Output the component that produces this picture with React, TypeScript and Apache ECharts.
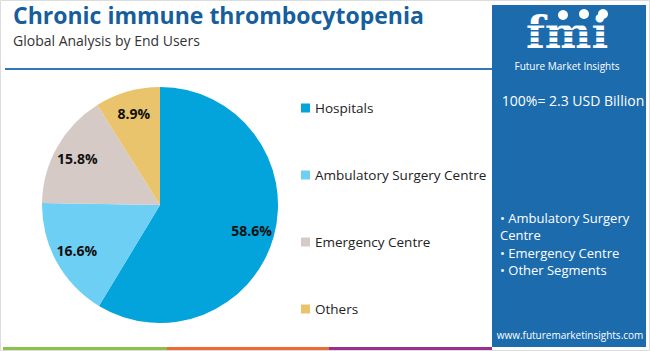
import React, { useEffect, useRef } from "react";
import * as echarts from "echarts";

const categories = ["Hospitals", "Ambulatory Surgery Centre", "Emergency Centre", "Others"];
const shares = [58.6, 16.6, 15.8, 8.9];
const colors = ["#03A4DC", "#6ECFF4", "#D6CAC6", "#E9C46C"];
const panelBullets = ["• Ambulatory Surgery", "Centre", "• Emergency Centre", "• Other Segments"];
const titleText = "Chronic immune thrombocytopenia";
const subtitleText = "Global Analysis by End Users";
const totalText = "100%= 2.3 USD Billion";

export default function App() {
  const ref = useRef<HTMLDivElement>(null);
  useEffect(() => {
    document.body.style.margin = "0";
    const chart = echarts.init(ref.current!, null, { renderer: "svg" });
    const data = categories.map((name, i) => ({ name, value: shares[i], itemStyle: { color: colors[i] } }));
    const font = "'Open Sans', sans-serif";
    chart.setOption({
      animation: false,
      backgroundColor: "#ffffff",
      legend: {
        orient: "vertical",
        left: 296,
        top: 95,
        itemWidth: 9,
        itemHeight: 9,
        itemGap: 51,
        icon: "rect",
        data: categories,
        textStyle: { fontFamily: font, fontSize: 13.5, color: "#222", lineHeight: 16 },
      },
      series: [
        {
          type: "pie",
          center: [160, 205],
          radius: [0, 118],
          startAngle: 90,
          clockwise: true,
          label: { show: false },
          labelLine: { show: false },
          emphasis: { disabled: true },
          data,
        },
        {
          type: "pie",
          center: [160, 205],
          radius: [66, 118],
          startAngle: 90,
          clockwise: true,
          silent: true,
          itemStyle: { color: "rgba(0,0,0,0)", borderWidth: 0 },
          label: {
            show: true,
            position: "inside",
            formatter: "{c}%",
            fontFamily: font,
            fontWeight: "bold",
            fontSize: 14,
            color: "#111",
          },
          labelLine: { show: false },
          emphasis: { disabled: true },
          data: categories.map((name, i) => ({ name, value: shares[i] })),
        },
      ],
      graphic: [
        { type: "rect", shape: { x: 0.5, y: 0.5, width: 649, height: 350 }, style: { fill: "none", stroke: "#dcdcdc", lineWidth: 1 } },
        { type: "text", x: 13, y: 3.5, style: { text: titleText, font: `bold 23px ${font}`, fill: "#165E9C" } },
        { type: "text", x: 13, y: 33, style: { text: subtitleText, font: `14px ${font}`, fill: "#333" } },
        { type: "line", shape: { x1: 5, y1: 69, x2: 492, y2: 69 }, style: { stroke: "#2E7AB8", lineWidth: 2 } },
        { type: "rect", shape: { x: 492, y: 5, width: 154, height: 342 }, style: { fill: "#1B6BAD" } },
        { type: "text", x: 567, y: 32, style: { text: "fmi", font: "bold 44px 'DejaVu Serif', serif", lineHeight: 34, fill: "#ffffff", align: "center", verticalAlign: "middle" } },
        { type: "rect", shape: { x: 512, y: 24, width: 110, height: 1.5 }, style: { fill: "#1B6BAD" } },
        { type: "rect", shape: { x: 512, y: 30, width: 110, height: 1.5 }, style: { fill: "#1B6BAD" } },
        { type: "rect", shape: { x: 512, y: 36, width: 110, height: 1.5 }, style: { fill: "#1B6BAD" } },
        { type: "rect", shape: { x: 512, y: 42, width: 110, height: 1.5 }, style: { fill: "#1B6BAD" } },
        { type: "rect", shape: { x: 512, y: 48, width: 110, height: 1.5 }, style: { fill: "#1B6BAD" } },
        { type: "circle", shape: { cx: 563, cy: 15, r: 5 }, style: { fill: "#ffffff" } },
        { type: "circle", shape: { cx: 584, cy: 14, r: 5 }, style: { fill: "#ffffff" } },
        { type: "circle", shape: { cx: 603, cy: 14, r: 5 }, style: { fill: "#ffffff" } },
        { type: "text", x: 567, y: 66, style: { text: "Future Market Insights", font: `10px ${font}`, fill: "#ffffff", align: "center", verticalAlign: "middle" } },
        { type: "text", x: 573, y: 100, style: { text: totalText, font: `14px ${font}`, fill: "#ffffff", align: "center", verticalAlign: "middle" } },
        {
          type: "text",
          x: 500,
          y: 209,
          style: { text: panelBullets.join("\n"), font: `13px ${font}`, lineHeight: 17.5, fill: "#ffffff" },
        },
        { type: "text", x: 570, y: 335, style: { text: "www.futuremarketinsights.com", font: `10px ${font}`, fill: "#ffffff", align: "center", verticalAlign: "middle" } },
        { type: "rect", shape: { x: 3, y: 347, width: 164, height: 3 }, style: { fill: "#8DC04A" } },
        { type: "rect", shape: { x: 167, y: 347, width: 162, height: 3 }, style: { fill: "#EE6B37" } },
        { type: "rect", shape: { x: 329, y: 347, width: 163, height: 3 }, style: { fill: "#9B2F8E" } },
      ],
    });
    return () => chart.dispose();
  }, []);
  return <div ref={ref} style={{ position: "fixed", left: 0, top: 0, width: 650, height: 351 }} />;
}
